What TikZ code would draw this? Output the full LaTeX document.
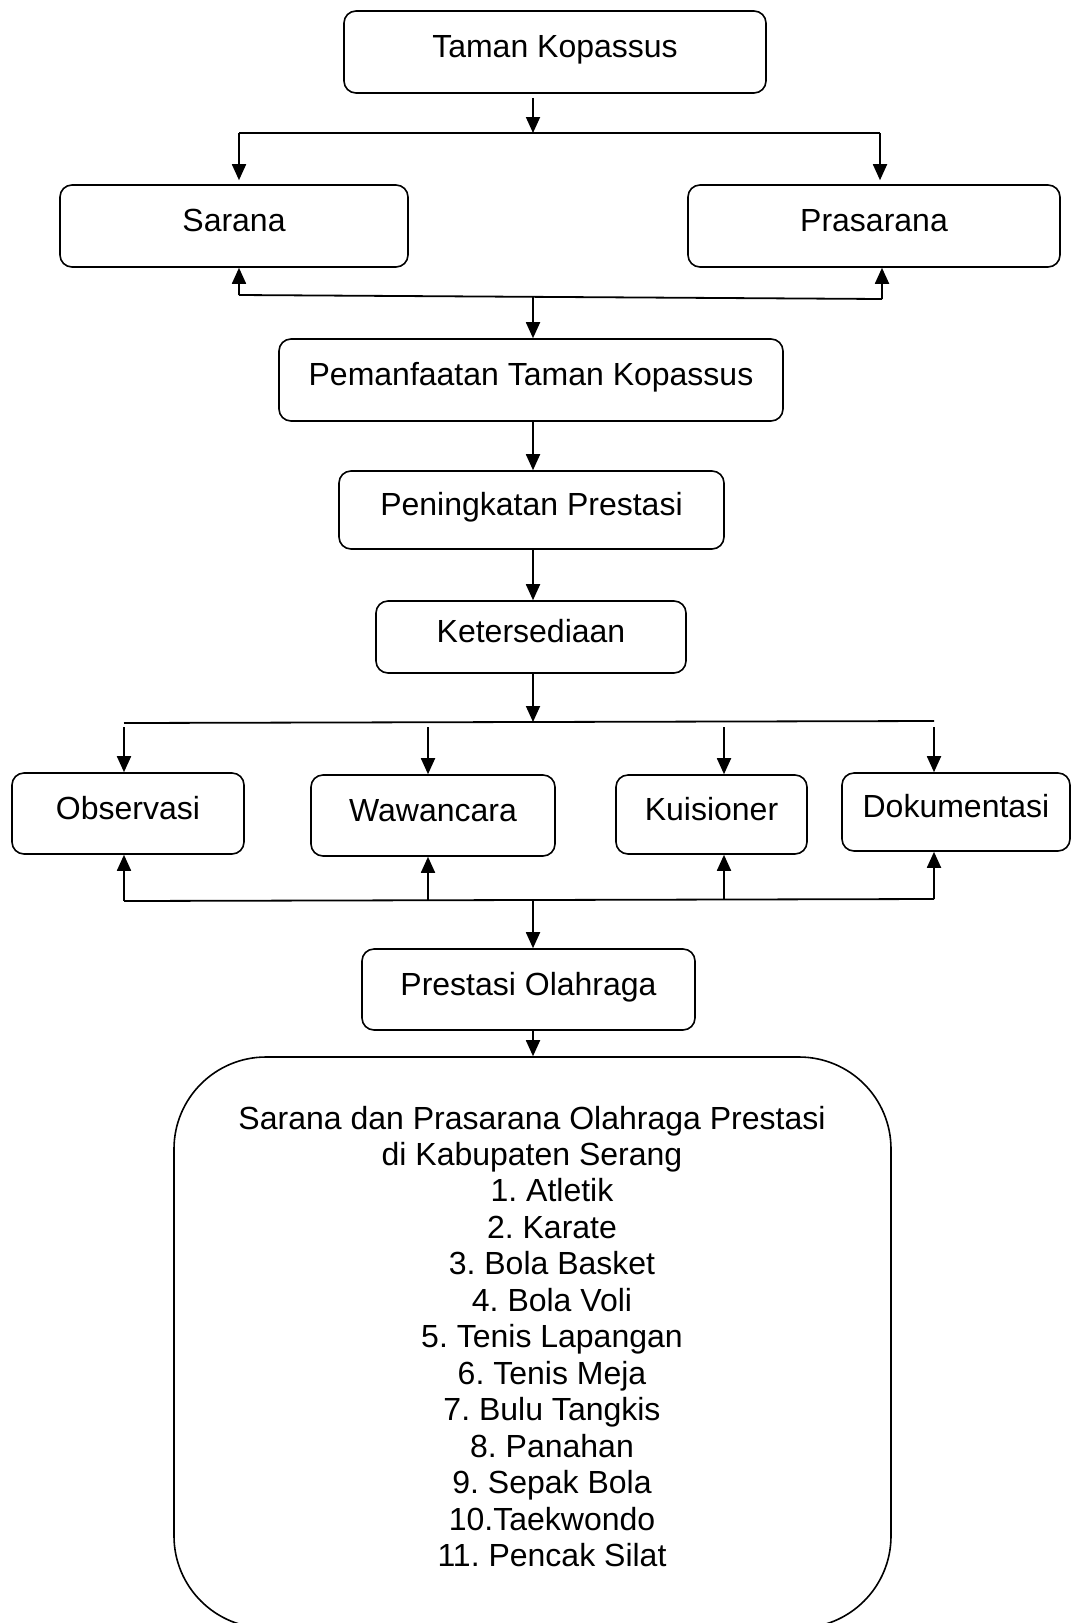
\documentclass[tikz,border=0pt]{standalone}
\usepackage{fontspec}
\setmainfont{Liberation Sans}
\usetikzlibrary{arrows.meta}
\frenchspacing
\tikzset{
  box/.style={draw, line width=1.6pt, rounded corners=12pt, inner sep=0pt,
    font=\fontsize{32}{36.5}\selectfont, text height=24pt, text depth=13pt},
  bigbox/.style={draw, line width=1.6pt, rounded corners=92pt, inner sep=0pt},
  txt/.style={inner sep=0pt, align=center, font=\fontsize{32}{36.5}\selectfont},
  conn/.style={line width=1.8pt},
  arr/.style={line width=1.8pt, -{Triangle[length=16pt,width=14pt]}}
}
\begin{document}
\begin{tikzpicture}[x=1pt,y=-1pt]
\fill[white] (0,0) rectangle (1071,1623);
\useasboundingbox (0,0) rectangle (1071,1623);

% boxes
\node[box, minimum width=422pt, minimum height=82pt] (taman) at (555,52) {Taman Kopassus};
\node[box, minimum width=348pt, minimum height=82pt] (sarana) at (234,226) {Sarana};
\node[box, minimum width=372pt, minimum height=82pt] (prasarana) at (874,226) {Prasarana};
\node[box, minimum width=504pt, minimum height=82pt] (peman) at (531,380) {Pemanfaatan Taman Kopassus};
\node[box, minimum width=385pt, minimum height=78pt] (pening) at (531.5,510) {Peningkatan Prestasi};
\node[box, minimum width=310pt, minimum height=72pt] (keter) at (531,637) {Ketersediaan};
\node[box, minimum width=232pt, minimum height=81pt] (obs) at (128,813.5) {Observasi};
\node[box, minimum width=244pt, minimum height=81pt] (waw) at (433,815.5) {Wawancara};
\node[box, minimum width=191pt, minimum height=79pt] (kuis) at (711.5,814.5) {Kuisioner};
\node[box, minimum width=228pt, minimum height=78pt] (dok) at (956,812) {Dokumentasi};
\node[box, minimum width=333pt, minimum height=81pt] (pres) at (528.5,989.5) {Prestasi Olahraga};
\node[bigbox, minimum width=717pt, minimum height=571pt] (big) at (532.5,1342.5) {};
\node[txt] (head) at (532,1139) {Sarana dan Prasarana Olahraga Prestasi\\di Kabupaten Serang};
\node[txt] (list) at (552,1373) {1. Atletik\\2. Karate\\3. Bola Basket\\4. Bola Voli\\5. Tenis Lapangan\\6. Tenis Meja\\7. Bulu Tangkis\\8. Panahan\\9. Sepak Bola\\10.Taekwondo\\11. Pencak Silat};

% coordinates
\coordinate (cx) at (533,0);
\coordinate (j1) at (533,133);
\coordinate (sL) at (239,133);
\coordinate (sR) at (880,133);
\coordinate (rL) at (239,295);
\coordinate (rR) at (882,299);
\coordinate (rM) at (533,297);
\coordinate (j2) at (533,722);
\coordinate (tL) at (124,723);
\coordinate (tR) at (934,721);
\coordinate (t1) at (124,727);
\coordinate (t2) at (428,727);
\coordinate (t3) at (724,727);
\coordinate (t4) at (934,727);
\coordinate (b1) at (124,901);
\coordinate (b2) at (428,900.2);
\coordinate (b3) at (724,899.5);
\coordinate (b4) at (934,899);
\coordinate (bM) at (533,900);

% connectors
\draw[arr, shorten <=4pt] (taman.south -| cx) -- (j1);
\draw[conn] (sL) -- (sR);
\draw[arr, shorten >=4pt] (sL) -- (sarana.north -| sL);
\draw[arr, shorten >=4pt] (sR) -- (prasarana.north -| sR);
\draw[conn] (rL) -- (rR);
\draw[arr] (rL) -- (sarana.south -| rL);
\draw[arr] (rR) -- (prasarana.south -| rR);
\draw[arr] (rM) -- (peman.north -| rM);
\draw[arr] (peman.south -| cx) -- (pening.north -| cx);
\draw[arr] (pening.south -| cx) -- (keter.north -| cx);
\draw[arr] (keter.south -| cx) -- (j2);
\draw[conn] (tL) -- (tR);
\draw[arr] (t1) -- (obs.north -| t1);
\draw[arr] (t2) -- (waw.north -| t2);
\draw[arr] (t3) -- (kuis.north -| t3);
\draw[arr] (t4) -- (dok.north -| t4);
\draw[conn] (b1) -- (b4);
\draw[arr] (b1) -- (obs.south -| b1);
\draw[arr] (b2) -- (waw.south -| b2);
\draw[arr] (b3) -- (kuis.south -| b3);
\draw[arr] (b4) -- (dok.south -| b4);
\draw[arr] (bM) -- (pres.north -| bM);
\draw[arr] (pres.south -| cx) -- (big.north -| cx);
\end{tikzpicture}
\end{document}
